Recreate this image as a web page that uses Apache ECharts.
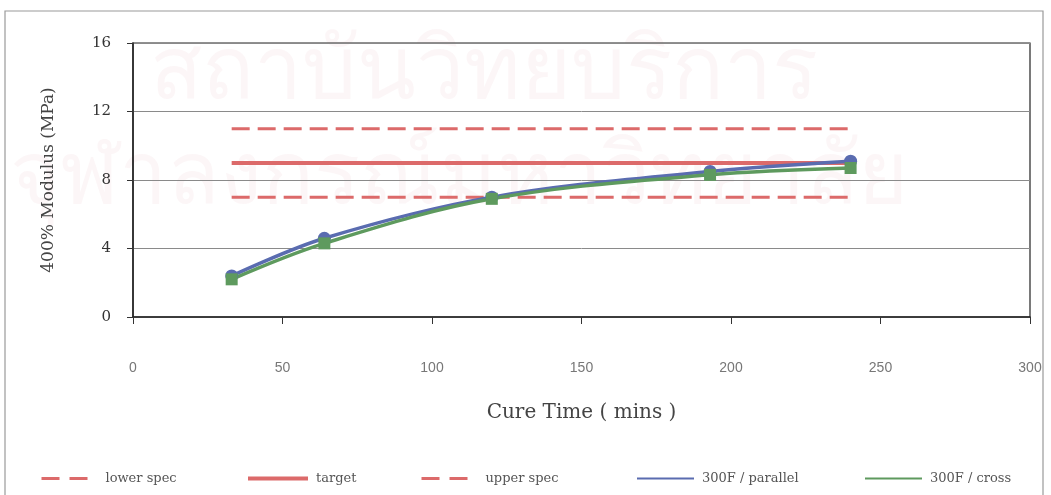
<!DOCTYPE html>
<html>
<head>
<meta charset="utf-8">
<title>400% Modulus vs Cure Time</title>
<script src="https://cdn.jsdelivr.net/npm/echarts@6/dist/echarts.min.js"></script>
<style>
  html, body { margin: 0; padding: 0; background: #fff; }
  #chart { width: 1051px; height: 495px; }
</style>
</head>
<body>
<div id="chart"></div>
<script>
// Cure times (mins) at which samples were tested
const cureTimes = [33, 64, 120, 193, 240];
// 400% modulus (MPa) for each orientation
const parallel = [2.4, 4.6, 7.0, 8.5, 9.1];
const cross = [2.2, 4.3, 6.9, 8.3, 8.7];
// Specification limits (MPa), drawn across the tested cure range
const lowerSpec = 7;
const target = 9;
const upperSpec = 11;
const specRange = [33, 240];
// Axis ticks
const xTicks = { min: 0, max: 300, step: 50 };
const yTicks = { min: 0, max: 16, step: 4 };

const seriesNames = ['lower spec', 'target', 'upper spec', '300F / parallel', '300F / cross'];
const RED = '#dc6a6a';
const BLUE = '#5a6cb0';
const GREEN = '#5e9a5e';
const serif = '"DejaVu Serif", "Liberation Serif", serif';

const pairs = (xs, ys) => xs.map((x, i) => [x, ys[i]]);
const specLine = v => specRange.map(x => [x, v]);

const chart = echarts.init(document.getElementById('chart'), null, { renderer: 'canvas' });

// One legend block per series so each entry sits at its own spot along the bottom
const legendAt = (name, left, iconWidth, lineStyle) => ({
  data: [name],
  left: left,
  top: 472,
  padding: 0,
  itemWidth: iconWidth,
  itemHeight: 12,
  itemGap: 0,
  itemStyle: { opacity: 0 },
  lineStyle: lineStyle,
  textStyle: { fontFamily: serif, fontSize: 13, color: '#555', padding: [0, 0, 0, 3] },
  selectedMode: false
});

chart.setOption({
  animation: false,
  backgroundColor: '#fff',
  graphic: [
    {
      type: 'rect',
      shape: { x: 5, y: 11, width: 1038, height: 490 },
      style: { fill: 'none', stroke: '#9a9a9a', lineWidth: 1.2 },
      z: 0
    },
    {
      type: 'text',
      left: 150, top: 30,
      style: { text: 'สถาบันวิทยบริการ', font: '86px "Noto Sans", "DejaVu Sans", sans-serif', fill: 'rgba(225,150,170,0.09)' },
      z: -1
    },
    {
      type: 'text',
      left: 10, top: 135,
      style: { text: 'จุฬาลงกรณ์มหาวิทยาลัย', font: '86px "Noto Sans", "DejaVu Sans", sans-serif', fill: 'rgba(225,150,170,0.09)' },
      z: -1
    }
  ],
  grid: {
    left: 133, top: 43, right: 21, bottom: 178,
    show: true, borderColor: '#222', borderWidth: 1.2, backgroundColor: 'transparent'
  },
  legend: [
    legendAt(seriesNames[0], 40, 56, { width: 3, type: [18, 10] }),
    legendAt(seriesNames[1], 246, 60, { width: 4 }),
    legendAt(seriesNames[2], 420, 56, { width: 3, type: [18, 10] }),
    legendAt(seriesNames[3], 636, 57, { width: 2 }),
    legendAt(seriesNames[4], 864, 57, { width: 2 })
  ],
  xAxis: {
    type: 'value',
    min: xTicks.min, max: xTicks.max, interval: xTicks.step,
    name: 'Cure Time ( mins )',
    nameLocation: 'middle',
    nameGap: 86,
    nameTextStyle: { fontFamily: serif, fontSize: 20, color: '#444' },
    axisLine: { show: true, onZero: false, lineStyle: { color: '#222', width: 1.5 } },
    axisTick: { show: true, length: 7, lineStyle: { color: '#333' } },
    axisLabel: { margin: 44, fontFamily: '"Liberation Sans", Arial, sans-serif', fontSize: 14, color: '#777' },
    splitLine: { show: false }
  },
  yAxis: {
    type: 'value',
    min: yTicks.min, max: yTicks.max, interval: yTicks.step,
    name: '400% Modulus (MPa)',
    nameLocation: 'middle',
    nameGap: 76,
    nameRotate: 90,
    nameTextStyle: { fontFamily: serif, fontSize: 17, color: '#444' },
    axisLine: { show: true, onZero: false, lineStyle: { color: '#222', width: 1.5 } },
    axisTick: { show: true, length: 6, lineStyle: { color: '#333' } },
    axisLabel: { margin: 22, fontFamily: serif, fontSize: 15, color: '#333' },
    splitLine: { show: true, lineStyle: { color: '#8a8a8a', width: 1 } }
  },
  series: [
    {
      name: seriesNames[0], type: 'line', data: specLine(lowerSpec),
      symbol: 'none', silent: true,
      lineStyle: { color: RED, width: 3, type: [18, 8] },
      itemStyle: { color: RED }
    },
    {
      name: seriesNames[1], type: 'line', data: specLine(target),
      symbol: 'none', silent: true,
      lineStyle: { color: RED, width: 4 },
      itemStyle: { color: RED }
    },
    {
      name: seriesNames[2], type: 'line', data: specLine(upperSpec),
      symbol: 'none', silent: true,
      lineStyle: { color: RED, width: 3, type: [18, 8] },
      itemStyle: { color: RED }
    },
    {
      name: seriesNames[3], type: 'line', data: pairs(cureTimes, parallel),
      smooth: 0.35, symbol: 'circle', symbolSize: 13,
      lineStyle: { color: BLUE, width: 3.5 },
      itemStyle: { color: BLUE }
    },
    {
      name: seriesNames[4], type: 'line', data: pairs(cureTimes, cross),
      smooth: 0.35, symbol: 'rect', symbolSize: 12,
      lineStyle: { color: GREEN, width: 3.5 },
      itemStyle: { color: GREEN }
    }
  ]
});
</script>
</body>
</html>
